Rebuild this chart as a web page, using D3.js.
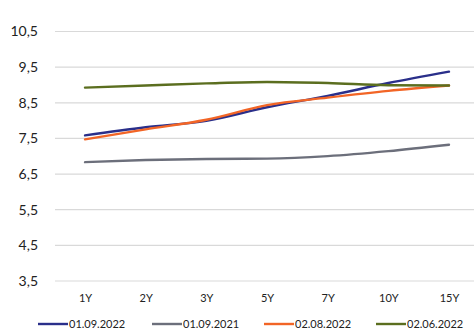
<!DOCTYPE html>
<html>
<head>
<meta charset="utf-8">
<script src="https://cdn.jsdelivr.net/npm/d3@7"></script>
<style>
  html, body { margin: 0; padding: 0; background: #fff; }
  svg { display: block; }
</style>
</head>
<body>
<svg id="chart" width="474" height="332"></svg>
<script>
// Yield curve tenors
const tenors = ["1Y", "2Y", "3Y", "5Y", "7Y", "10Y", "15Y"];
const yTicks = [3.5, 4.5, 5.5, 6.5, 7.5, 8.5, 9.5, 10.5];

// Yields per curve date, %
const s20220901 = [7.57, 7.80, 7.98, 8.36, 8.68, 9.04, 9.36];
const s20210901 = [6.82, 6.88, 6.91, 6.92, 6.99, 7.13, 7.31];
const s20220802 = [7.46, 7.74, 8.01, 8.42, 8.63, 8.82, 8.97];
const s20220602 = [8.91, 8.97, 9.03, 9.07, 9.04, 8.98, 8.97];

const seriesNames = ["01.09.2022", "01.09.2021", "02.08.2022", "02.06.2022"];
const seriesColors = ["#2a2f8a", "#6c6f7b", "#f26526", "#5b6e1f"];
const seriesValues = [s20220901, s20210901, s20220802, s20220602];

const svg = d3.select("#chart");
const font = "Lato, 'Open Sans', sans-serif";

// Title (sits above the top edge; only descenders reach the view)
svg.append("text")
  .attr("x", 8).attr("y", -3)
  .attr("font-family", font).attr("font-weight", "bold").attr("font-size", 15)
  .attr("fill", "#000")
  .text("Кривая доходности ОФЗ, % годовых");

const x = d3.scalePoint().domain(tenors).range([85, 449]);
const y = d3.scaleLinear().domain([3.5, 10.5]).range([280.5, 31]);

// Horizontal gridlines + y labels
const yAxis = d3.axisLeft(y).tickValues(yTicks)
  .tickSize(-(474 - 55))
  .tickFormat(d => d3.format(".1f")(d).replace(".", ","));
const gy = svg.append("g").attr("transform", "translate(55,0)").call(yAxis);
gy.select(".domain").remove();
gy.selectAll(".tick line").attr("stroke", "#d9d9d9").attr("stroke-width", 1.2);
gy.selectAll(".tick text")
  .attr("x", -17).attr("dy", "0.35em")
  .attr("font-family", font).attr("font-size", 14).attr("fill", "#222");

// Category labels
const xAxis = d3.axisBottom(x).tickSize(0).tickPadding(0);
const gx = svg.append("g").attr("transform", "translate(0,298)").call(xAxis);
gx.select(".domain").remove();
gx.selectAll(".tick text")
  .attr("font-family", font).attr("font-size", 11).attr("fill", "#222").attr("dy", "0.35em");

// Lines
const line = d3.line()
  .x((d, i) => x(tenors[i]))
  .y(d => y(d))
  .curve(d3.curveMonotoneX);

seriesValues.forEach((vals, k) => {
  svg.append("path")
    .datum(vals)
    .attr("fill", "none")
    .attr("stroke", seriesColors[k])
    .attr("stroke-width", 2.4)
    .attr("stroke-linecap", "round")
    .attr("d", line);
});

// Legend
const legendX = [38, 152, 264, 376];
const lg = svg.append("g");
seriesNames.forEach((name, k) => {
  const g = lg.append("g").attr("transform", `translate(${legendX[k]},324)`);
  g.append("line").attr("x1", 0).attr("x2", 30).attr("y1", 0).attr("y2", 0)
    .attr("stroke", seriesColors[k]).attr("stroke-width", 2.4);
  g.append("text").attr("x", 31).attr("dy", "0.35em")
    .attr("font-family", font).attr("font-size", 11).attr("fill", "#222")
    .text(name);
});
</script>
</body>
</html>
